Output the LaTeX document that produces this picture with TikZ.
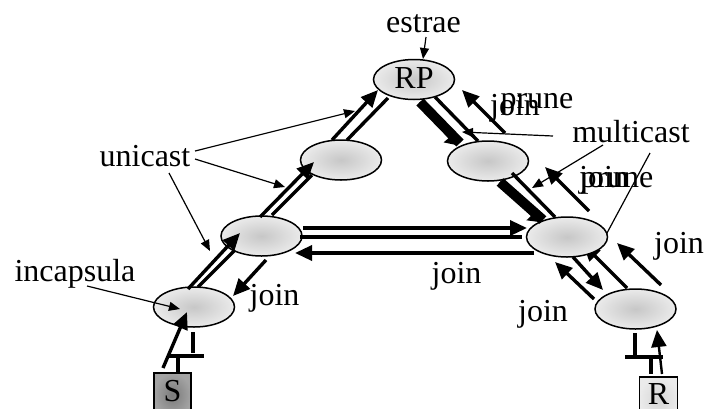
\documentclass[tikz,border=0pt]{standalone}
\usepackage{fontspec}
\setmainfont{Liberation Serif}
\usetikzlibrary{arrows.meta,shapes.geometric}
\tikzset{
  x=1pt,y=-1pt,
  router/.style={ellipse,draw=black,line width=1.5pt,minimum width=81pt,minimum height=40pt,inner sep=0pt,inner color=black!22,outer color=black!8},
  lbl/.style={font=\fontsize{32}{32}\selectfont,anchor=base,inner sep=0pt},
  heavy/.style={line width=3.4pt,-{Triangle[length=17pt,width=15pt]}},
  plain/.style={line width=3.4pt},
  fat/.style={line width=10pt},
  fathead/.style={line width=3pt,-{Triangle[length=10pt,width=15pt]}},
  thin arrow/.style={line width=1.2pt,-{Triangle[length=11pt,width=9pt]}},
}
\begin{document}
\begin{tikzpicture}
\useasboundingbox (0,0) rectangle (704,408);
% connectors that run under the routers
\coordinate (mc3a) at (650,153);
\coordinate (mc3b) at (600,246);
\coordinate (u1) at (627,288);
\coordinate (u2) at (583,244);
\draw[line width=1.2pt] (mc3a) -- (mc3b);
\draw[heavy] (u1) -- (u2);
% routers
\node[router] (rp) at (414,79.5) {};
\node[router] (ne) at (488,161) {};
\node[router] (nw) at (341,160) {};
\node[router] (w) at (261.5,236) {};
\node[router] (e) at (567,237) {};
\node[router] (re) at (635.5,309) {};
\node[router] (sr) at (194,307) {};
\node[draw=black,line width=1.3pt,minimum width=37pt,minimum height=44pt,inner sep=0pt,inner color=black!52,outer color=black!36] (s) at (172.5,395) {};
\node[draw=black,line width=1.3pt,minimum width=38pt,minimum height=44pt,inner sep=0pt,inner color=black!16,outer color=black!8] (r) at (658.5,399) {};
% texts
\node[lbl] at (414,88) {RP};
\node[lbl] at (172.5,401) {S};
\node[lbl] at (658.5,404) {R};
\node[lbl] at (423.5,32) {estrae};
\node[lbl] at (145,166) {unicast};
\node[lbl] at (75,281) {incapsula};
\node[lbl] at (631,142) {multicast};
\node[lbl] at (537,108) {prune};
\node[lbl] at (515,115) {join};
\node[lbl] at (617,187) {prune};
\node[lbl] at (604,187) {join};
\node[lbl] at (456.5,283) {join};
\node[lbl] at (274.5,305) {join};
\node[lbl] at (679,253) {join};
\node[lbl] at (543,321) {join};
% free ends of the connectors
\foreach \n/\x/\y in {
 a1/188/289,a2/240/233,b1/198/287,b2/235/250,c1/260/217,c2/314/162,d1/272/215,d2/312/175,
 e1/332/140,e2/378/90,f1/347/140,f2/388/98,
 g1/435/97,g2/478/141,h1/420/102,h2/460/143,h3/456/145,i1/505/133,i2/462/90,
 j1/512/173,j2/555/217,k1/500/182,k2/543/220,k3/539/222,l1/589/211,l2/545/167,
 m1/303/228,m2/527/228,n1/300/237,n2/522/237,o1/534/253,o2/295/253,
 p1/266/260,p2/233/296,q1/573/257,q2/603/290,t1/594/299,t2/555/262,
 v1/661/285,v2/617/243,
 ea/426/37,eb/423/59,ua/195/151,ub/355/111,uc/195/159,ud/285/187,ue/169/173,uf/210/251,
 ia/87/286,ib/180/309,ma/553/136,mb/462/132,mc/603/145,md/532/188,
 sa/163/368,sb/187/312,sc/193/332,sd/193/353,se/167/356,sf/204/356,sg/178/356,sh/178/373,
 ra/635/333,rb/635/355,rc/625/357,rd/663/357,re2/651/357,rf/651/374,rg/662/374,rh/657/330}
 {\coordinate (\n) at (\x,\y);}
% unicast tunnel
\draw[heavy] (a1) -- (a2);
\draw[plain] (b1) -- (b2);
\draw[heavy] (c1) -- (c2);
\draw[plain] (d1) -- (d2);
\draw[heavy] (e1) -- (e2);
\draw[plain] (f1) -- (f2);
% right branch
\draw[plain] (g1) -- (g2);
\draw[fathead] (h1) -- (h3);
\draw[fat] (h1) -- (h2);
\draw[heavy] (i1) -- (i2);
\draw[plain] (j1) -- (j2);
\draw[fathead] (k1) -- (k3);
\draw[fat] (k1) -- (k2);
\draw[heavy] (l1) -- (l2);
% horizontals
\draw[heavy] (m1) -- (m2);
\draw[plain] (n1) -- (n2);
\draw[heavy] (o1) -- (o2);
\draw[heavy] (p1) -- (p2);
% lower right
\draw[heavy] (q1) -- (q2);
\draw[heavy] (t1) -- (t2);
\draw[heavy] (v1) -- (v2);
% thin callouts
\draw[thin arrow] (ea) -- (eb);
\draw[thin arrow] (ua) -- (ub);
\draw[thin arrow] (uc) -- (ud);
\draw[thin arrow] (ue) -- (uf);
\draw[thin arrow] (ia) -- (ib);
\draw[thin arrow] (ma) -- (mb);
\draw[thin arrow] (mc) -- (md);
% source and receiver
\draw[heavy] (sa) -- (sb);
\draw[plain] (sc) -- (sd);
\draw[plain] (se) -- (sf);
\draw[plain] (sg) -- (sh);
\draw[plain] (ra) -- (rb);
\draw[plain] (rc) -- (rd);
\draw[plain] (re2) -- (rf);
\draw[line width=2.4pt,-{Triangle[length=17pt,width=15pt]}] (rg) -- (rh);
\end{tikzpicture}
\end{document}
